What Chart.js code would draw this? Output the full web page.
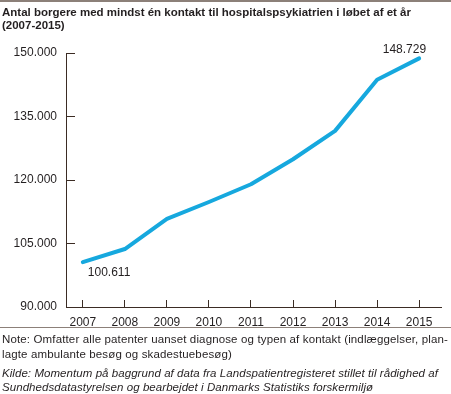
<!DOCTYPE html>
<html>
<head>
<meta charset="utf-8">
<script src="https://cdn.jsdelivr.net/npm/chart.js@4.4.1/dist/chart.umd.min.js"></script>
<style>
body { margin: 0; width: 451px; height: 394px; background: #fff; position: relative; overflow: hidden;
       font-family: "Liberation Sans", Arial, sans-serif; color: #231f20; }
#topline { position: absolute; left: 0; top: 0; width: 451px; height: 2px; background: #8c8079; }
#title { position: absolute; left: 2px; top: 6px; font-weight: bold; font-size: 11.5px; line-height: 13px; white-space: nowrap; }
#chartbox { position: absolute; left: 0; top: 0; width: 451px; height: 335px; }
#sep { position: absolute; left: 0; top: 327px; width: 451px; height: 1px; background: #8c8079; }
#note { position: absolute; left: 2px; top: 332px; font-size: 11.5px; line-height: 15px; letter-spacing: 0.14px; white-space: nowrap; }
#kilde { position: absolute; left: 2px; top: 366px; font-size: 11.5px; line-height: 14px; letter-spacing: 0.06px; font-style: italic; white-space: nowrap; }
</style>
</head>
<body>
<div id="topline"></div>
<div id="chartbox"><canvas id="line-chart"></canvas></div>
<div id="title">Antal borgere med mindst én kontakt til hospitalspsykiatrien i løbet af et år<br>(2007-2015)</div>
<div id="sep"></div>
<div id="note">Note: Omfatter alle patenter uanset diagnose og typen af kontakt (indlæggelser, plan-<br>lagte ambulante besøg og skadestuebesøg)</div>
<div id="kilde">Kilde: Momentum på baggrund af data fra Landspatientregisteret stillet til rådighed af<br>Sundhedsdatastyrelsen og bearbejdet i Danmarks Statistiks forskermiljø</div>
<script>
var years = [2007, 2008, 2009, 2010, 2011, 2012, 2013, 2014, 2015];
var borgere = [100611, 103700, 110800, 114800, 119000, 124900, 131600, 143700, 148729];
var yTicks = [90000, 105000, 120000, 135000, 150000];

var axisColor = "#3b2c24";
var textColor = "#231f20";

function formatDk(v) {
    return String(v).replace(/\B(?=(\d{3})+(?!\d))/g, ".");
}

// value labels on first and last point
var endLabels = {
    id: 'endLabels',
    afterDatasetsDraw: function (chart) {
        var meta = chart.getDatasetMeta(0);
        var first = meta.data[0];
        var last = meta.data[meta.data.length - 1];
        var ctx = chart.ctx;
        ctx.save();
        ctx.font = "12px 'Liberation Sans', Arial, sans-serif";
        ctx.fillStyle = textColor;
        ctx.textBaseline = "middle";
        ctx.textAlign = "left";
        ctx.fillText(formatDk(borgere[0]), first.x + 5, first.y + 11);
        ctx.textAlign = "right";
        ctx.fillText(formatDk(borgere[borgere.length - 1]), last.x + 7, last.y - 9);
        ctx.restore();
    }
};

new Chart(document.getElementById("line-chart"), {
    type: 'line',
    data: {
        datasets: [{
            data: years.map(function (y, i) { return {x: y, y: borgere[i]}; }),
            borderColor: "#16a8de",
            borderWidth: 4,
            borderCapStyle: 'round',
            borderJoinStyle: 'round',
            pointRadius: 0,
            tension: 0,
            clip: false
        }]
    },
    options: {
        responsive: true,
        maintainAspectRatio: false,
        animation: false,
        events: [],
        layout: { padding: { left: 0, right: 10, top: 53, bottom: 0 } },
        plugins: { legend: { display: false }, tooltip: { enabled: false } },
        scales: {
            x: {
                type: 'linear',
                min: 2006.6,
                max: 2015.52,
                afterBuildTicks: function (s) { s.ticks = years.map(function (v) { return {value: v}; }); },
                afterFit: function (s) { s.height = 28; },
                border: { color: axisColor, width: 1 },
                grid: { drawOnChartArea: false, tickLength: -7, color: axisColor },
                ticks: {
                    color: textColor, padding: 15,
                    font: { family: "'Liberation Sans', Arial, sans-serif", size: 12 },
                    callback: function (v) { return String(v); }
                }
            },
            y: {
                min: 90000,
                max: 150000,
                afterBuildTicks: function (s) { s.ticks = yTicks.map(function (v) { return {value: v}; }); },
                afterFit: function (s) { s.width = 66; },
                border: { color: axisColor, width: 1 },
                grid: { drawOnChartArea: false, tickLength: -9, color: axisColor },
                ticks: {
                    color: textColor, padding: 18,
                    font: { family: "'Liberation Sans', Arial, sans-serif", size: 12 },
                    callback: function (v) { return formatDk(v); }
                }
            }
        }
    },
    plugins: [endLabels]
});
</script>
</body>
</html>
